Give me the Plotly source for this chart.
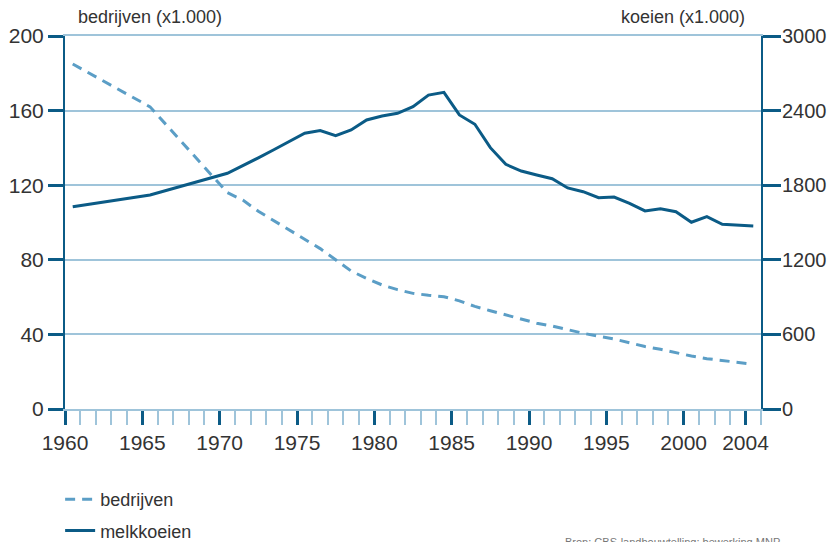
import plotly.graph_objects as go

years = [1960, 1965, 1970] + list(range(1971, 2005))
bedrijven = [185, 162, 116,
             112, 106, 101, 96, 91, 86, 80, 74, 70, 66.5,
             64, 62, 61, 60.2, 58, 55, 52.7, 50.5, 48, 46,
             44.5, 42.5, 40.6, 39, 37.5, 35.5, 33.5, 32, 30, 28.4,
             27, 26, 25, 24]
melkkoeien = [1627, 1721, 1896,
              1955, 2020, 2085, 2150, 2218, 2239, 2199, 2244, 2325, 2357,
              2378, 2432, 2525, 2547, 2365, 2290, 2102, 1968, 1914, 1882,
              1852, 1778, 1748, 1700, 1705, 1654, 1593, 1611, 1587, 1502,
              1547, 1485, 1480, 1472]

major_ticks = [1960, 1965, 1970, 1975, 1980, 1985, 1990, 1995, 2000, 2004, 2005]
major_labels = ["1960", "1965", "1970", "1975", "1980", "1985", "1990", "1995", "2000", "2004", ""]
left_ticks = [0, 40, 80, 120, 160, 200]
right_ticks = [0, 600, 1200, 1800, 2400, 3000]

DARK = "#0b5b86"
LIGHT = "#5b9ec6"
GRID = "#9fc4da"
TXT = "#333333"
FONT = "Liberation Sans, Arial, sans-serif"

xs = [y + 0.5 for y in years]

fig = go.Figure()
fig.add_trace(go.Scatter(x=xs, y=bedrijven, name="bedrijven", mode="lines",
                         line=dict(color=LIGHT, width=3, dash="10px,7px"),
                         legendgroup="a", yaxis="y"))
fig.add_trace(go.Scatter(x=xs, y=melkkoeien, name="melkkoeien", mode="lines",
                         line=dict(color=DARK, width=3),
                         legendgroup="b", yaxis="y2"))

fig.update_layout(
    width=828, height=534,
    margin=dict(l=57, r=75, t=28, b=133, autoexpand=False),
    paper_bgcolor="white", plot_bgcolor="white",
    font=dict(family=FONT, color=TXT),
    showlegend=True,
    legend=dict(x=-0.007, y=-0.193, xanchor="left", yanchor="top",
                font=dict(size=18, color=TXT), tracegroupgap=5,
                bgcolor="rgba(0,0,0,0)"),
    xaxis=dict(range=[1960, 2005], tickmode="array", tickvals=major_ticks,
               ticktext=major_labels, ticks="outside", ticklen=14, tickwidth=3,
               tickcolor=DARK, showgrid=False, zeroline=False, automargin=False,
               showline=True, linecolor=GRID, linewidth=1.5, mirror=True,
               tickfont=dict(size=21, color=TXT),
               minor=dict(tickmode="array", tickvals=list(range(1960, 2006)),
                          ticks="outside", ticklen=14, tickwidth=2,
                          tickcolor=GRID, showgrid=False)),
    yaxis=dict(range=[0, 200], tickmode="array", tickvals=left_ticks,
               ticks="outside", ticklen=15, tickwidth=3, tickcolor=DARK,
               showline=True, linecolor=DARK, linewidth=2, automargin=False,
               showgrid=True, gridcolor=GRID, gridwidth=1.5, zeroline=False,
               tickfont=dict(size=21, color=TXT)),
    yaxis2=dict(range=[0, 3000], tickmode="array", tickvals=right_ticks,
                overlaying="y", side="right", automargin=False,
                ticks="outside", ticklen=18, tickwidth=3, tickcolor=DARK,
                ticklabelstandoff=-3,
                showline=True, linecolor=DARK, linewidth=2,
                showgrid=False, zeroline=False,
                tickfont=dict(size=20, color=TXT)),
    annotations=[
        dict(text="bedrijven (x1.000)", xref="paper", yref="paper",
             x=0.016, y=1.051, xanchor="left", yanchor="middle",
             showarrow=False, font=dict(size=18, color=TXT)),
        dict(text="koeien (x1.000)", xref="paper", yref="paper",
             x=0.98, y=1.051, xanchor="right", yanchor="middle",
             showarrow=False, font=dict(size=18, color=TXT)),
        dict(text="Bron: CBS-landbouwtelling; bewerking MNP", xref="paper", yref="paper",
             x=0.7155, y=-0.335, xanchor="left", yanchor="top",
             showarrow=False, font=dict(size=11, color="#777777")),
    ],
)

fig.write_html("out.html")
